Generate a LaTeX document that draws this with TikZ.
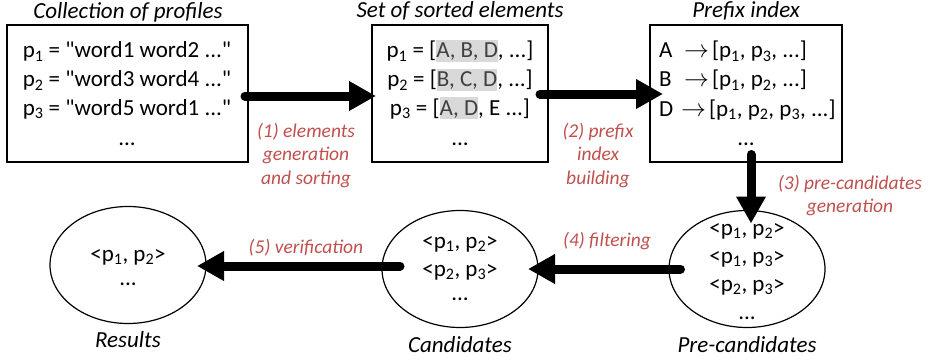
\documentclass[tikz,border=0pt]{standalone}
\usepackage{fontspec}
\setmainfont{Carlito}[Ligatures=TeXOff]
\usetikzlibrary{arrows.meta,shapes.geometric}
\definecolor{lblred}{RGB}{192,80,77}
\definecolor{hlgray}{RGB}{217,217,217}
\definecolor{hltext}{RGB}{64,64,64}
\newcommand{\hlx}[1]{{\setlength{\fboxsep}{0pt}\colorbox{hlgray}{\color{hltext}\rule[-4pt]{0pt}{22pt}#1}}}
\newcommand{\pp}[1]{p\textsubscript{#1}}
\newcommand{\rarr}{\ensuremath{\rightarrow}}
\begin{document}
\begin{tikzpicture}[x=1pt,y=-1pt,
  every node/.style={inner sep=0pt,outer sep=0pt},
  frame/.style={draw,line width=1.3pt,rectangle,minimum height=137pt},
  oval/.style={draw,line width=1.2pt,ellipse,minimum width=156pt,minimum height=117pt},
  body/.style={font=\fontsize{23}{28}\selectfont,anchor=base},
  bodyl/.style={font=\fontsize{23}{28}\selectfont,anchor=base west},
  title/.style={font=\fontsize{23}{28}\selectfont\itshape,anchor=base},
  steplbl/.style={font=\fontsize{19.5}{24}\selectfont\itshape,text=lblred,anchor=base},
  flow/.style={line width=9pt,line cap=round,-{Triangle[length=27pt,width=28pt]}}]
\useasboundingbox (0,0) rectangle (929,361);
% boxes
\node[frame,minimum width=241pt] (b1) at (127.5,93.5) {};
\node[frame,minimum width=176pt] (b2) at (460,93.5) {};
\node[frame,minimum width=192pt] (b3) at (746,93.5) {};
% ellipses
\node[oval] (res) at (128,265) {};
\node[oval] (cand) at (460,269) {};
\node[oval] (pre) at (747,269) {};
% titles
\node[title] (h1) at (128,19) {Collection of profiles};
\node[title] (h2) at (460,18) {Set of sorted elements};
\node[title] (h3) at (746,18) {Prefix index};
\node[title] (l1) at (128,347) {Results};
\node[title] (l2) at (460,352) {Candidates};
\node[title] (l3) at (747,352) {Pre-candidates};
% box 1
\node[body] (t11) at (127,58) {\pp1 = "word1 word2 ..."};
\node[body] (t12) at (127,87) {\pp2 = "word3 word4 ..."};
\node[body] (t13) at (127,115) {\pp3 = "word5 word1 ..."};
\node[body] (t14) at (127,145) {...};
% box 2
\node[body] (t21) at (460,58) {\pp1 = [\hlx{A, B, D}, ...]};
\node[body] (t22) at (460,87) {\pp2 = [\hlx{B, C, D}, ...]};
\node[body] (t23) at (460,115) {\pp3 = [\hlx{A, D}, E ...]};
\node[body] (t24) at (460,145) {...};
% box 3
\node[bodyl] (t31) at (659,58) {\makebox[25pt][l]{A}\makebox[28pt][l]{\rarr}[\pp1, \pp3, ...]};
\node[bodyl] (t32) at (659,87) {\makebox[25pt][l]{B}\makebox[28pt][l]{\rarr}[\pp1, \pp2, ...]};
\node[bodyl] (t33) at (659,116) {\makebox[22pt][l]{D}\makebox[28pt][l]{\rarr}[\pp1, \pp2, \pp3, ...]};
\node[body] (t34) at (746,145) {...};
% ellipse contents
\node[body] (r1) at (128,261) {<\pp1, \pp2>};
\node[body] (r2) at (128,285) {...};
\node[body] (c1) at (460,248) {<\pp1, \pp2>};
\node[body] (c2) at (460,276) {<\pp2, \pp3>};
\node[body] (c3) at (460,300) {...};
\node[body] (p1) at (747,235) {<\pp1, \pp2>};
\node[body] (p2) at (747,263) {<\pp1, \pp3>};
\node[body] (p3) at (747,291) {<\pp2, \pp3>};
\node[body] (p4) at (747,319) {...};
% step labels
\node[steplbl] (s1a) at (306,137) {(1) elements};
\node[steplbl] (s1b) at (306,160) {generation};
\node[steplbl] (s1c) at (306,184) {and sorting};
\node[steplbl] (s2a) at (598,137) {(2) prefix};
\node[steplbl] (s2b) at (598,160) {index};
\node[steplbl] (s2c) at (598,184) {building};
\node[steplbl] (s3a) at (850,189) {(3) pre-candidates};
\node[steplbl] (s3b) at (850,212) {generation};
\node[steplbl] (s4) at (607,246) {(4) filtering};
\node[steplbl] (s5) at (306,253) {(5) verification};
% arrows
\draw[flow] ([shift={(-3,2.5)}]b1.east) -- ([shift={(4,2.5)}]b2.west);
\draw[flow] ([shift={(-8,0.5)}]b2.east) -- ([shift={(13,0.5)}]b3.west);
\draw[flow] ([shift={(5,-7.5)}]b3.south) -- ([shift={(4,13)}]pre.north);
\draw[flow] ([shift={(11.5,0)}]pre.west) -- ([shift={(-10,0)}]cand.east);
\draw[flow] ([shift={(18,-3)}]cand.west) -- ([shift={(-9,1)}]res.east);
\end{tikzpicture}
\end{document}
